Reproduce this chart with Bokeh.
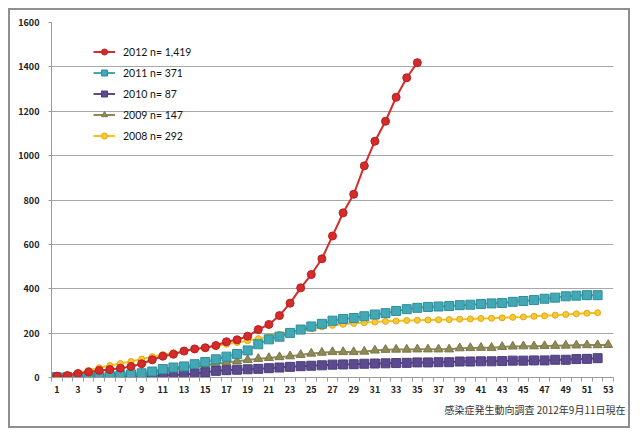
from bokeh.plotting import figure
from bokeh.models import (FixedTicker, Legend, LegendItem, Title, Range1d)
from bokeh.embed import file_html
from bokeh.resources import INLINE

weeks_52 = list(range(1, 53))
weeks_53 = list(range(1, 54))
weeks_35 = list(range(1, 36))

y2012 = [6, 9, 18, 25, 32, 36, 42, 50, 62, 80, 96, 105, 119, 129, 134, 144, 161, 170, 186, 216,
         239, 279, 335, 404, 464, 535, 638, 742, 826, 954, 1065, 1155, 1263, 1351, 1419]
y2011 = [1, 1, 2, 3, 5, 7, 10, 14, 19, 27, 38, 45, 50, 60, 70, 82, 94, 106, 122, 150,
         172, 184, 201, 216, 230, 242, 256, 264, 268, 276, 284, 290, 300, 308, 314, 318, 320, 322, 326, 328,
         331, 334, 336, 341, 345, 349, 355, 360, 366, 369, 371, 371]
y2010 = [0, 0, 1, 1, 2, 2, 3, 4, 5, 7, 9, 11, 14, 17, 23, 30, 33, 35, 37, 39,
         42, 45, 48, 51, 53, 55, 58, 59, 60, 62, 63, 64, 65, 66, 68, 68, 69, 69, 72, 72,
         73, 73, 74, 76, 76, 77, 77, 80, 80, 83, 84, 87]
y2009 = [1, 2, 3, 4, 6, 8, 11, 14, 18, 24, 30, 36, 42, 48, 55, 62, 68, 73, 79, 84,
         88, 92, 96, 102, 108, 112, 115, 115, 115, 117, 122, 125, 126, 126, 127, 127, 127, 127, 132, 133,
         134, 134, 138, 140, 141, 141, 142, 143, 144, 145, 146, 146, 147]
y2008 = [3, 10, 20, 32, 44, 54, 63, 72, 83, 94, 103, 112, 120, 127, 135, 142, 150, 158, 166, 175,
         185, 195, 205, 213, 220, 228, 235, 240, 244, 247, 250, 253, 255, 257, 258, 259, 260, 261, 263, 264,
         266, 267, 269, 271, 273, 276, 278, 281, 284, 287, 290, 292]

labels = ["2012 n= 1,419", "2011 n= 371", "2010 n= 87", "2009 n= 147", "2008 n= 292"]
x_ticks = list(range(1, 54, 2))
y_ticks = list(range(0, 1601, 200))
source_text = "感染症発生動向調査 2012年9月11日現在"

p = figure(frame_width=562, frame_height=355, min_border_left=41, min_border_right=15,
           min_border_top=12, min_border_bottom=49,
           output_backend="svg", toolbar_location=None,
           x_range=Range1d(0.5, 53.5), y_range=Range1d(0, 1600),
           styles={"border": "2px solid #8f8f8f", "margin-left": "8px", "margin-top": "8px"})
p.background_fill_color = "white"
p.border_fill_color = "white"
p.outline_line_color = None

p.xgrid.grid_line_color = None
p.ygrid.grid_line_color = "#a8a8a8"
p.ygrid.grid_line_width = 1
p.ygrid.ticker = FixedTicker(ticks=y_ticks)

p.xaxis.ticker = FixedTicker(ticks=x_ticks, minor_ticks=[w + 0.5 for w in range(0, 54)])
p.xaxis.major_tick_out = 0
p.xaxis.major_tick_in = 0
p.xaxis.minor_tick_out = 4
p.xaxis.minor_tick_in = 0
p.xaxis.minor_tick_line_color = "#9a9a9a"
p.xaxis.axis_line_color = "#9a9a9a"
p.xaxis.major_label_text_font = "Noto Sans CJK JP"
p.xaxis.major_label_text_font_size = "9px"
p.xaxis.major_label_text_font_style = "bold"
p.xaxis.major_label_text_color = "#222222"
p.xaxis.major_label_standoff = 4

p.yaxis.ticker = FixedTicker(ticks=y_ticks)
p.yaxis.minor_tick_line_color = None
p.yaxis.major_tick_out = 3
p.yaxis.major_tick_in = 0
p.yaxis.major_tick_line_color = "#9a9a9a"
p.yaxis.axis_line_color = "#9a9a9a"
p.yaxis.major_label_text_font = "Noto Sans CJK JP"
p.yaxis.major_label_text_font_size = "9px"
p.yaxis.major_label_text_font_style = "bold"
p.yaxis.major_label_text_color = "#222222"
p.yaxis.major_label_standoff = 9

c2012 = "#d42b2b"
c2011 = "#43a8b6"
c2010 = "#5c4a8e"
c2009 = "#8d8a57"
c2008 = "#f5c21b"

l08 = p.line(weeks_52, y2008, line_color=c2008, line_width=2)
m08 = p.scatter(weeks_52, y2008, marker="circle", size=6, fill_color="#f7c93a", line_color="#e0a810", line_width=1)
l09 = p.line(weeks_53, y2009, line_color=c2009, line_width=2)
m09 = p.scatter(weeks_53, y2009, marker="triangle", size=9, fill_color=c2009, line_color="#7a774a", line_width=1)
l10 = p.line(weeks_52, y2010, line_color=c2010, line_width=2)
m10 = p.scatter(weeks_52, y2010, marker="square", size=9, fill_color=c2010, line_color="#4d3d7a", line_width=1)
l11 = p.line(weeks_52, y2011, line_color=c2011, line_width=2)
m11 = p.scatter(weeks_52, y2011, marker="square", size=9, fill_color=c2011, line_color="#2f8c99", line_width=1)
l12 = p.line(weeks_35, y2012, line_color=c2012, line_width=2)
m12 = p.scatter(weeks_35, y2012, marker="circle", size=8, fill_color=c2012, line_color="#b81e1e", line_width=1)

legend = Legend(items=[
    LegendItem(label=labels[0], renderers=[l12, m12]),
    LegendItem(label=labels[1], renderers=[l11, m11]),
    LegendItem(label=labels[2], renderers=[l10, m10]),
    LegendItem(label=labels[3], renderers=[l09, m09]),
    LegendItem(label=labels[4], renderers=[l08, m08]),
], location=(42, 234))
legend.background_fill_alpha = 0
legend.border_line_color = None
legend.padding = 0
legend.margin = 0
legend.spacing = 6
legend.glyph_width = 22
legend.glyph_height = 15
legend.label_height = 15
legend.label_standoff = 8
legend.label_text_font = "Lato"
legend.label_text_font_size = "10.5px"
legend.label_text_color = "#111111"
p.add_layout(legend, "center")

t = Title(text=source_text, align="right", text_font="Noto Sans CJK JP",
          text_font_size="10px", text_font_style="normal", text_color="#333333",
          standoff=8, offset=-12)
p.add_layout(t, "below")

open("out.html", "w").write(file_html(p, INLINE))
